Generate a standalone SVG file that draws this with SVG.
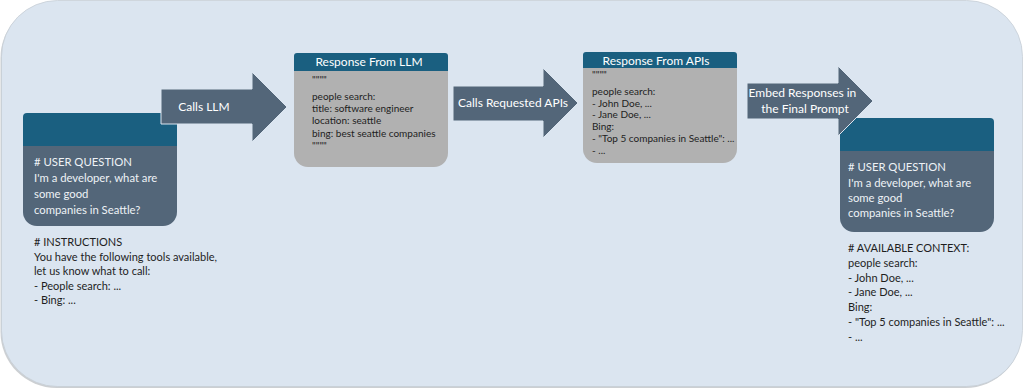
<svg xmlns="http://www.w3.org/2000/svg" width="1024" height="389" viewBox="0 0 1024 389">
  <style>
    text { font-family: "Lato", "Liberation Sans", "DejaVu Sans", sans-serif; }
    .hdr { fill: #1a5f80; }
    .body { fill: #536679; }
    .gray { fill: #b1b1b1; }
    .arrow { fill: #536679; stroke: #dbe5f0; stroke-width: 1; }
    .wt { fill: #ffffff; font-size: 12px; }
    .wq { fill: #eef2f6; font-size: 11.3px; }
    .dk { fill: #1e1e1e; font-size: 11px; }
    .gt { fill: #1e1e1e; font-size: 10px; }
  </style>
  <rect width="1024" height="389" fill="#ffffff"/>
  <g id="frame">
    <rect x="0.5" y="2" width="1021" height="386" rx="56" fill="#9aa0a6" opacity="0.5"/>
    <rect x="1.5" y="0.5" width="1021" height="386" rx="56" fill="#dbe5f0" stroke="#c7ced6" stroke-width="0.8"/>
  </g>

  <g id="user-question-left">
    <path class="body" d="M23,146 H177 V212 A14,14 0 0 1 163,226 H37 A14,14 0 0 1 23,212 Z"/>
    <path class="hdr" d="M27,113 H173 A4,4 0 0 1 177,117 V146 H23 V117 A4,4 0 0 1 27,113 Z"/>
    <text class="wq">
      <tspan x="34" y="166"># USER QUESTION</tspan>
      <tspan x="34" y="182">I'm a developer, what are</tspan>
      <tspan x="34" y="198">some good</tspan>
      <tspan x="34" y="214">companies in Seattle?</tspan>
    </text>
  </g>

  <g id="instructions">
    <text class="dk">
      <tspan x="34" y="246"># INSTRUCTIONS</tspan>
      <tspan x="34" y="261">You have the following tools available,</tspan>
      <tspan x="34" y="275">let us know what to call:</tspan>
      <tspan x="34" y="290">- People search: ...</tspan>
      <tspan x="34" y="304">- Bing: ...</tspan>
    </text>
  </g>

  <g id="response-llm">
    <path class="gray" d="M294,71 H448 V153 A14,14 0 0 1 434,167 H308 A14,14 0 0 1 294,153 Z"/>
    <path class="hdr" d="M297,53 H445 A3,3 0 0 1 448,56 V71 H294 V56 A3,3 0 0 1 297,53 Z"/>
    <text class="wt" x="369" y="66" text-anchor="middle">Response From LLM</text>
    <text class="gt">
      <tspan x="312" y="83">""""</tspan>
      <tspan x="312" y="100">people search:</tspan>
      <tspan x="312" y="112">title: software engineer</tspan>
      <tspan x="312" y="124">location: seattle</tspan>
      <tspan x="312" y="137">bing: best seattle companies</tspan>
      <tspan x="312" y="149">""""</tspan>
    </text>
  </g>

  <g id="response-apis">
    <path class="gray" d="M583,68 H737 V149 A14,14 0 0 1 723,163 H597 A14,14 0 0 1 583,149 Z"/>
    <path class="hdr" d="M586,52 H734 A3,3 0 0 1 737,55 V68 H583 V55 A3,3 0 0 1 586,52 Z"/>
    <text class="wt" x="656" y="65" text-anchor="middle">Response From APIs</text>
    <text class="gt">
      <tspan x="592" y="78">""""</tspan>
      <tspan x="592" y="95">people search:</tspan>
      <tspan x="592" y="107">- John Doe, ...</tspan>
      <tspan x="592" y="118">- Jane Doe, ...</tspan>
      <tspan x="592" y="130">Bing:</tspan>
      <tspan x="592" y="142">- "Top 5 companies in Seattle": ...</tspan>
      <tspan x="592" y="154">- ...</tspan>
    </text>
  </g>

  <g id="user-question-right">
    <path class="body" d="M840,151 H994 V218 A14,14 0 0 1 980,232 H854 A14,14 0 0 1 840,218 Z"/>
    <path class="hdr" d="M844,118 H990 A4,4 0 0 1 994,122 V151 H840 V122 A4,4 0 0 1 844,118 Z"/>
    <text class="wq">
      <tspan x="848" y="171"># USER QUESTION</tspan>
      <tspan x="848" y="187">I'm a developer, what are</tspan>
      <tspan x="848" y="202">some good</tspan>
      <tspan x="848" y="217">companies in Seattle?</tspan>
    </text>
  </g>

  <g id="available-context">
    <text class="dk">
      <tspan x="848" y="252"># AVAILABLE CONTEXT:</tspan>
      <tspan x="848" y="267">people search:</tspan>
      <tspan x="848" y="282">- John Doe, ...</tspan>
      <tspan x="848" y="296">- Jane Doe, ...</tspan>
      <tspan x="848" y="311">Bing:</tspan>
      <tspan x="848" y="326">- "Top 5 companies in Seattle": ...</tspan>
      <tspan x="848" y="341">- ...</tspan>
    </text>
  </g>

  <g id="connectors">
    <g id="arrow-calls-llm">
      <path class="arrow" d="M161,89 H252 V72 L287,107 L252,142 V124 H161 Z"/>
      <text class="wt" x="204" y="111" text-anchor="middle">Calls LLM</text>
    </g>
    <g id="arrow-calls-apis">
      <path class="arrow" d="M453,86 H543 V68 L578,103 L543,138 V121 H453 Z"/>
      <text class="wt" x="513" y="107" text-anchor="middle">Calls Requested APIs</text>
    </g>
    <g id="arrow-embed">
      <path class="arrow" d="M747,83 H838 V66 L873,101 L838,136 V119 H747 Z"/>
      <text class="wt" text-anchor="middle">
        <tspan x="804" y="97">Embed Responses in</tspan>
        <tspan x="805" y="113">the Final Prompt</tspan>
      </text>
    </g>
  </g>
</svg>
